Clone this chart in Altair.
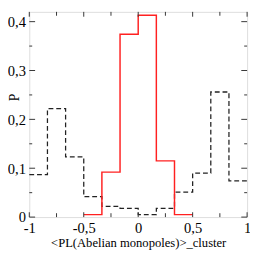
import altair as alt
import pandas as pd

# bin edges (12 bins of width 1/6 from -1 to 1)
edges = [-1, -5/6, -4/6, -3/6, -2/6, -1/6, 0, 1/6, 2/6, 3/6, 4/6, 5/6, 1]
dashed_vals = [0.087, 0.222, 0.123, 0.042, 0.022, 0.018, 0.005, 0.018, 0.051, 0.090, 0.256, 0.074]
red_edges = [-3/6, -2/6, -1/6, 0, 1/6, 2/6, 3/6]
red_vals = [0.005, 0.092, 0.374, 0.413, 0.115, 0.005]

x_major = [-1, -0.5, 0, 0.5, 1]
x_minor = [-0.75, -0.25, 0.25, 0.75]
y_major = [0, 0.1, 0.2, 0.3, 0.4]
y_minor = [0.05, 0.15, 0.25, 0.35]

W, H = 225, 212
FONT = "Times New Roman"

dashed_df = pd.DataFrame({"x": edges, "p": dashed_vals + [dashed_vals[-1]]})
red_df = pd.DataFrame({"x": red_edges, "p": red_vals + [red_vals[-1]]})

xscale = alt.Scale(domain=[-1, 1], nice=False, zero=False)
yscale = alt.Scale(domain=[0, 0.42], nice=False)

xaxis = alt.Axis(values=x_major, ticks=False, domain=False, grid=False,
                 labelFont=FONT, labelFontSize=15, labelColor="black",
                 labelFlush=False, labelPadding=4,
                 labelExpr="replace('' + datum.value, '.', ',')",
                 title="<PL(Abelian monopoles)>_cluster", titleFont=FONT,
                 titleFontSize=13, titleFontWeight="normal", titleColor="black",
                 titlePadding=1)
yaxis = alt.Axis(values=y_major, ticks=False, domain=False, grid=False,
                 labelFont=FONT, labelFontSize=15, labelColor="black",
                 labelPadding=4, labelFlush=False,
                 labelExpr="datum.value == 0 ? '0' : replace(format(datum.value, '.1f'), '.', ',')",
                 title="P", titleFont=FONT, titleFontSize=14,
                 titleFontWeight="normal", titleColor="black",
                 titleAngle=270, titleBaseline="top", titleAlign="center",
                 titleX=-22, titleY=88)

dashed = alt.Chart(dashed_df).mark_line(
    interpolate="step-after", color="#222222", strokeWidth=1.3, strokeDash=[5, 3]
).encode(x=alt.X("x:Q", scale=xscale, axis=xaxis), y=alt.Y("p:Q", scale=yscale, axis=yaxis))

red = alt.Chart(red_df).mark_line(
    interpolate="step-after", color="#ff2020", strokeWidth=1.5
).encode(x=alt.X("x:Q", scale=xscale), y=alt.Y("p:Q", scale=yscale))

def xticks(vals, length):
    df = pd.DataFrame({"t": vals})
    bottom = alt.Chart(df).mark_rule(color="#333333", strokeWidth=1).encode(
        x=alt.X("t:Q", scale=xscale), y=alt.value(H), y2=alt.value(H - length))
    top = alt.Chart(df).mark_rule(color="#333333", strokeWidth=1).encode(
        x=alt.X("t:Q", scale=xscale), y=alt.value(0), y2=alt.value(length))
    return [bottom, top]

def yticks(vals, length):
    df = pd.DataFrame({"t": vals})
    left = alt.Chart(df).mark_rule(color="#333333", strokeWidth=1).encode(
        y=alt.Y("t:Q", scale=yscale), x=alt.value(0), x2=alt.value(length))
    right = alt.Chart(df).mark_rule(color="#333333", strokeWidth=1).encode(
        y=alt.Y("t:Q", scale=yscale), x=alt.value(W), x2=alt.value(W - length))
    return [left, right]

layers = [dashed, red] + xticks(x_major, 5) + xticks(x_minor, 4) + yticks(y_major, 6) + yticks(y_minor, 3)

chart = alt.layer(*layers).properties(
    width=W, height=H,
    autosize=alt.AutoSizeParams(type="none"),
    padding={"left": 22, "top": 0, "right": 3, "bottom": 30},
    background="white",
).configure_view(stroke="#222222", strokeWidth=1.5).configure(font=FONT)

chart.save("out.html", embed_options={"renderer": "svg", "actions": False})
